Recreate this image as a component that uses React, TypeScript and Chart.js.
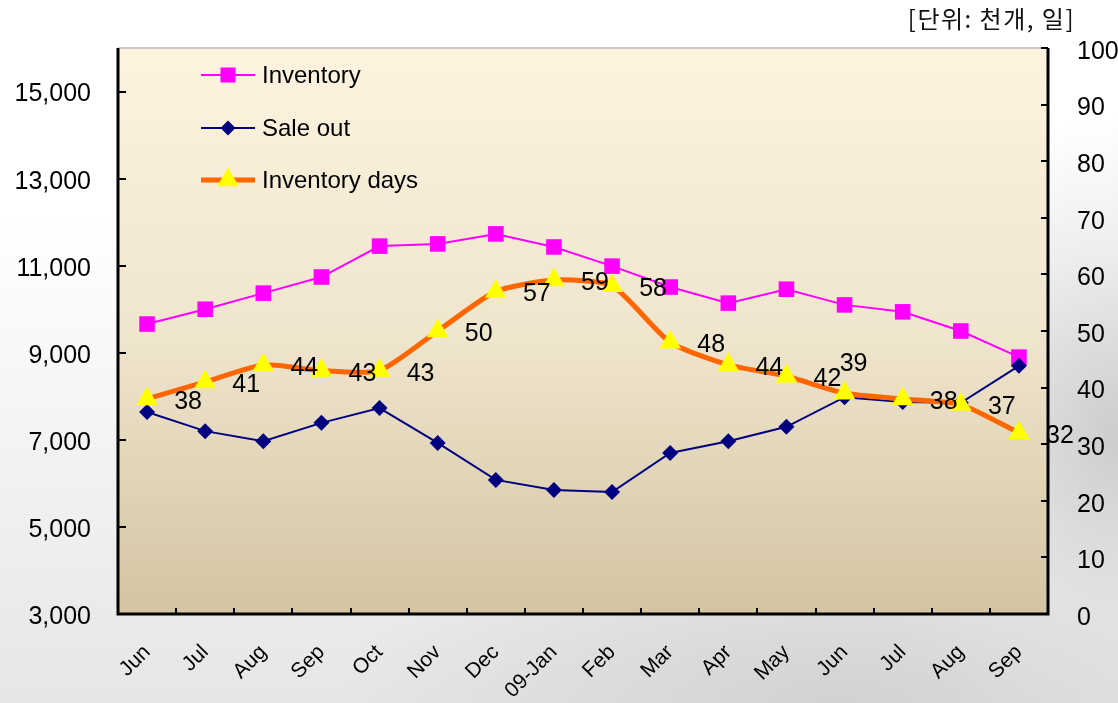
import React, { useEffect, useRef } from "react";
import { Chart, registerables } from "chart.js";

Chart.register(...registerables);

// ---- data ----
const months = ["Jun", "Jul", "Aug", "Sep", "Oct", "Nov", "Dec", "09-Jan", "Feb", "Mar", "Apr", "May", "Jun", "Jul", "Aug", "Sep"];
const inventory = [9660, 10000, 10370, 10740, 11450, 11500, 11730, 11430, 10990, 10510, 10140, 10460, 10100, 9940, 9500, 8900];
const saleOut = [7640, 7200, 6970, 7390, 7730, 6930, 6080, 5850, 5800, 6700, 6970, 7300, 7980, 7870, 7850, 8700];
const inventoryDays = [38, 41, 44, 43, 43, 50, 57, 59, 58, 48, 44, 42, 39, 38, 37, 32];
const leftTicks = [3000, 5000, 7000, 9000, 11000, 13000, 15000];
const rightTicks = [0, 10, 20, 30, 40, 50, 60, 70, 80, 90, 100];
const seriesNames = ["Inventory", "Sale out", "Inventory days"];
const unitLabel = "[단위: 천개, 일]";

// ---- styles ----
const FONT = "'Liberation Sans', Arial, Helvetica, sans-serif";
const defaultLabelOffset = [41, 3];
const specialLabelOffsets: Record<number, number[]> = { 12: [9, -29] };

const plotStyling = {
  id: "plotStyling",
  beforeDatasetsDraw(chart: any) {
    const { ctx, chartArea: a } = chart;
    ctx.save();
    const g = ctx.createLinearGradient(0, a.top, 0, a.bottom);
    g.addColorStop(0, "#FDF3DF");
    g.addColorStop(0.5, "#F0E6CE");
    g.addColorStop(1, "#D3C4A2");
    ctx.fillStyle = g;
    ctx.fillRect(a.left, a.top, a.right - a.left, a.bottom - a.top);
    ctx.restore();
  },
  afterDatasetsDraw(chart: any) {
    const { ctx } = chart;
    const meta = chart.getDatasetMeta(2);
    ctx.save();
    ctx.fillStyle = "#000";
    ctx.font = `25px ${FONT}`;
    ctx.textAlign = "center";
    ctx.textBaseline = "middle";
    meta.data.forEach((p: any, i: number) => {
      const off = specialLabelOffsets[i] || defaultLabelOffset;
      ctx.fillText(String(inventoryDays[i]), p.x + off[0], p.y + off[1]);
    });
    ctx.restore();
  },
  afterDraw(chart: any) {
    const { ctx, chartArea: a, scales } = chart;
    ctx.save();
    // top border
    ctx.strokeStyle = "#BDBDBD";
    ctx.lineWidth = 1.5;
    ctx.beginPath();
    ctx.moveTo(a.left, a.top);
    ctx.lineTo(a.right, a.top);
    ctx.stroke();
    // axes
    ctx.strokeStyle = "#000";
    ctx.lineWidth = 3;
    ctx.beginPath();
    ctx.moveTo(a.left, a.top);
    ctx.lineTo(a.left, a.bottom);
    ctx.lineTo(a.right, a.bottom);
    ctx.lineTo(a.right, a.top);
    ctx.stroke();
    // ticks (inward)
    ctx.lineWidth = 2;
    ctx.beginPath();
    leftTicks.forEach((v) => {
      const y = Math.round(scales.y.getPixelForValue(v));
      ctx.moveTo(a.left, y);
      ctx.lineTo(a.left + 8, y);
    });
    rightTicks.forEach((v) => {
      const y = Math.round(scales.y1.getPixelForValue(v));
      ctx.moveTo(a.right, y);
      ctx.lineTo(a.right - 7, y);
    });
    for (let i = 1; i < months.length; i++) {
      const x = Math.round((scales.x.getPixelForValue(i - 1) + scales.x.getPixelForValue(i)) / 2);
      ctx.moveTo(x, a.bottom);
      ctx.lineTo(x, a.bottom - 6);
    }
    ctx.stroke();

    // legend inside plot
    const ds = chart.data.datasets;
    const rows = [75, 128, 180];
    const lx0 = 201, lx1 = 255, mx = 228, tx = 262;
    seriesNames.forEach((name, i) => {
      const d: any = ds[i];
      const y = rows[i];
      ctx.strokeStyle = d.borderColor;
      ctx.lineWidth = d.borderWidth;
      ctx.beginPath();
      ctx.moveTo(lx0, y);
      ctx.lineTo(lx1, y);
      ctx.stroke();
      ctx.fillStyle = d.pointBackgroundColor;
      ctx.beginPath();
      if (d.pointStyle === "rect") {
        const s = 7.5;
        ctx.rect(mx - s, y - s, 2 * s, 2 * s);
      } else if (d.pointStyle === "rectRot") {
        const r = 7.5;
        ctx.moveTo(mx, y - r);
        ctx.lineTo(mx + r, y);
        ctx.lineTo(mx, y + r);
        ctx.lineTo(mx - r, y);
        ctx.closePath();
      } else {
        const r = 12.5;
        ctx.moveTo(mx, y - r);
        ctx.lineTo(mx + r * 0.866, y + r / 2);
        ctx.lineTo(mx - r * 0.866, y + r / 2);
        ctx.closePath();
      }
      ctx.fill();
      ctx.fillStyle = "#000";
      ctx.font = `24px ${FONT}`;
      ctx.textAlign = "left";
      ctx.textBaseline = "middle";
      ctx.fillText(name, tx, y + 1);
    });

    // unit label
    ctx.fillStyle = "#111";
    ctx.font = `24px 'Noto Sans CJK KR', sans-serif`;
    try {
      (ctx as any).letterSpacing = "1.5px";
    } catch (e) {}
    ctx.textAlign = "right";
    ctx.textBaseline = "middle";
    ctx.fillText(unitLabel, 1075, 19);
    ctx.restore();
  },
};

export default function App() {
  const ref = useRef<HTMLCanvasElement>(null);

  useEffect(() => {
    if (!ref.current) return;
    const chart = new Chart(ref.current, {
      type: "line",
      data: {
        labels: months,
        datasets: [
          {
            label: seriesNames[0],
            data: inventory,
            yAxisID: "y",
            borderColor: "#FF00FF",
            backgroundColor: "#FF00FF",
            pointBackgroundColor: "#FF00FF",
            borderWidth: 2,
            pointStyle: "rect",
            pointRadius: 11,
            pointBorderWidth: 0,
            tension: 0,
            order: 3,
          } as any,
          {
            label: seriesNames[1],
            data: saleOut,
            yAxisID: "y",
            borderColor: "#000080",
            backgroundColor: "#000080",
            pointBackgroundColor: "#000080",
            borderWidth: 2,
            pointStyle: "rectRot",
            pointRadius: 8,
            pointBorderWidth: 0,
            tension: 0,
            order: 2,
          } as any,
          {
            label: seriesNames[2],
            data: inventoryDays,
            yAxisID: "y1",
            borderColor: "#FF6600",
            backgroundColor: "#FFFF00",
            pointBackgroundColor: "#FFFF00",
            borderWidth: 5,
            pointStyle: "triangle",
            pointRadius: 12.5,
            pointBorderWidth: 0,
            tension: 0.2,
            order: 1,
          } as any,
        ],
      },
      options: {
        responsive: false,
        devicePixelRatio: 1,
        animation: false,
        layout: { padding: { top: 48, left: 0, right: 0, bottom: 0 } },
        plugins: { legend: { display: false }, tooltip: { enabled: false } },
        scales: {
          x: {
            type: "category",
            offset: true,
            grid: { display: false, drawTicks: false },
            border: { display: false },
            ticks: {
              color: "#000",
              font: { family: FONT, size: 21 },
              maxRotation: 45,
              minRotation: 45,
              padding: 26,
              autoSkip: false,
            },
            afterFit: (s: any) => {
              s.height = 89;
            },
          },
          y: {
            position: "left",
            min: 3000,
            max: 16000,
            afterBuildTicks: (s: any) => {
              s.ticks = leftTicks.map((v) => ({ value: v }));
            },
            grid: { display: false, drawTicks: false },
            border: { display: false },
            ticks: {
              color: "#000",
              font: { family: FONT, size: 25 },
              padding: 27,
              labelOffset: 3,
              callback: (v: any) => Number(v).toLocaleString("en-US"),
            },
            afterFit: (s: any) => {
              s.width = 118;
            },
          },
          y1: {
            position: "right",
            min: 0,
            max: 100,
            afterBuildTicks: (s: any) => {
              s.ticks = rightTicks.map((v) => ({ value: v }));
            },
            grid: { display: false, drawTicks: false },
            border: { display: false },
            ticks: {
              color: "#000",
              font: { family: FONT, size: 25 },
              padding: 29,
              labelOffset: 4,
            },
            afterFit: (s: any) => {
              s.width = 70;
            },
          },
        },
      },
      plugins: [plotStyling],
    });
    return () => chart.destroy();
  }, []);

  return (
    <div
      style={{
        position: "fixed",
        left: 0,
        top: 0,
        width: 1118,
        height: 703,
        overflow: "hidden",
        background:
          "radial-gradient(ellipse 260px 320px at 100% 62%, rgba(200,200,200,0.9) 0%, rgba(225,225,225,0.6) 55%, rgba(255,255,255,0) 100%), radial-gradient(ellipse 500px 200px at 75% 100%, rgba(205,205,205,0.8) 0%, rgba(255,255,255,0) 100%), linear-gradient(180deg, #ffffff 0%, #ffffff 30%, #efefef 75%, #e6e6e6 100%)",
      }}
    >
      <canvas ref={ref} width={1118} height={703} style={{ display: "block", width: 1118, height: 703 }} />
    </div>
  );
}
